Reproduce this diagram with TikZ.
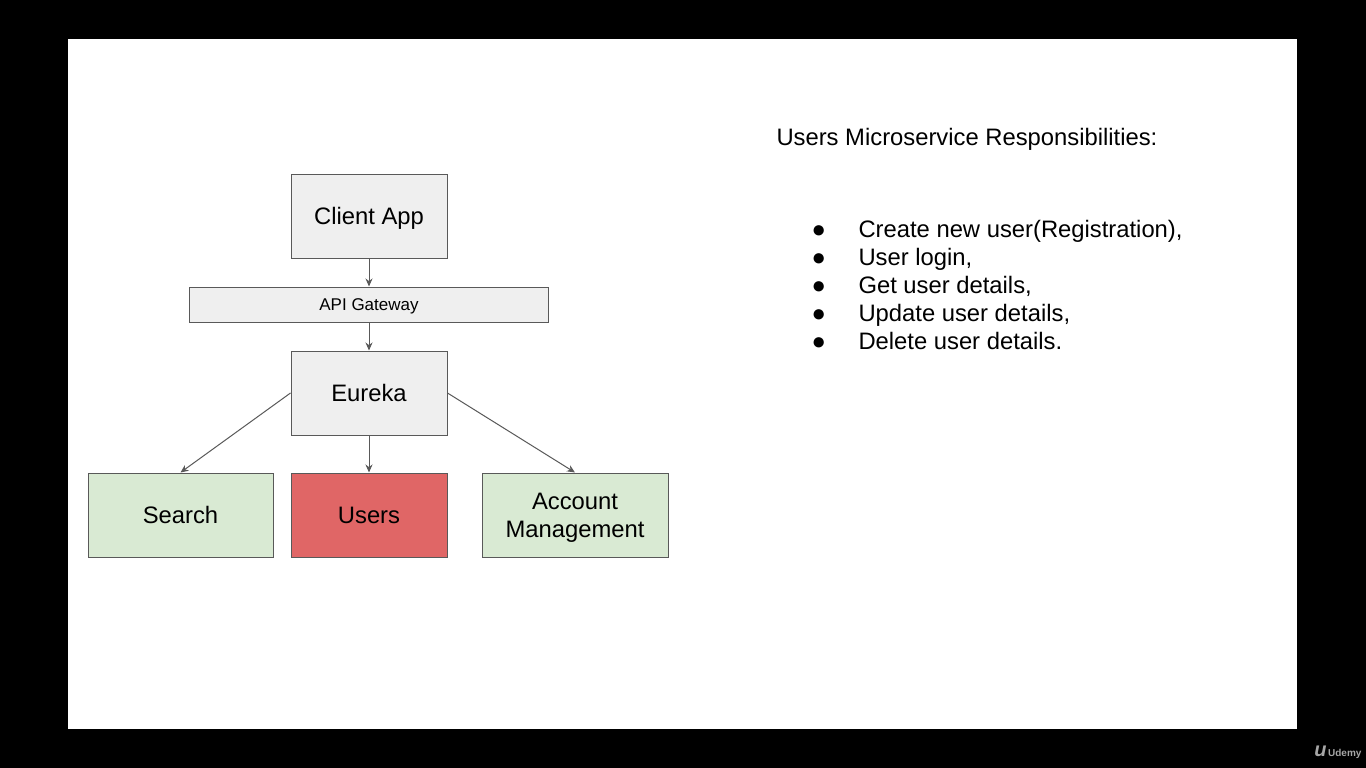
\documentclass[tikz,border=0pt]{standalone}
\usepackage{fontspec}
\setmainfont{Liberation Sans}
\usetikzlibrary{positioning,arrows.meta}
\definecolor{boxgray}{HTML}{EFEFEF}
\definecolor{linegray}{HTML}{595959}
\definecolor{svcgreen}{HTML}{D9EAD3}
\definecolor{svcred}{HTML}{E06666}
\begin{document}
\begin{tikzpicture}[
    x=1pt, y=1pt,
    ->,
    >={Stealth[length=8pt,width=7pt]},
    line width=1pt,
    draw=linegray,
    svc/.style={draw=linegray, fill=boxgray, minimum width=156pt, minimum height=84pt,
                inner sep=2pt, text depth=0pt, align=center, font=\fontsize{23.8}{28}\selectfont},
    item/.style={anchor=base west, inner sep=0pt, font=\fontsize{23.8}{28}\selectfont}
]
% slide
\fill[black] (0,0) rectangle (1366,-768);
\fill[white] (68,-39) rectangle (1297,-729);
\useasboundingbox (0,0) rectangle (1366,-768);

% diagram
\node[svc] (client) at (369,-216) {Client App};
\node[svc, minimum width=359pt, minimum height=35pt, font=\fontsize{17}{20}\selectfont,
      below=28pt of client] (gateway) {API Gateway};
\node[svc, below=28pt of gateway] (eureka) {Eureka};
\node[svc, fill=svcred, below=37pt of eureka] (users) {Users};
\node[svc, fill=svcgreen, minimum width=185pt, left=17pt of users] (search) {Search};
\node[svc, fill=svcgreen, minimum width=186pt, right=34pt of users] (account) {Account\\Management};
\path[linegray]
  (client) edge (gateway)
  (gateway) edge (eureka)
  (eureka) edge (users)
  (eureka.west) edge (search.north)
  (eureka.east) edge (account.north);

% responsibilities
\node[item] (title) at (776,-145) {Users Microservice Responsibilities:};
\node[item] (b1) at (811,-237) {●};
\node[item] (b2) at (811,-265) {●};
\node[item] (b3) at (811,-293) {●};
\node[item] (b4) at (811,-321) {●};
\node[item] (b5) at (811,-349) {●};
\node[item] (r1) at (858,-237) {Create new user(Registration),};
\node[item] (r2) at (858,-265) {User login,};
\node[item] (r3) at (858,-293) {Get user details,};
\node[item] (r4) at (858,-321) {Update user details,};
\node[item] (r5) at (858,-349) {Delete user details.};

% watermark
\node[anchor=east, text=gray!70, inner sep=0pt, font=\bfseries\fontsize{10}{11}\selectfont]
  (logo) at (1362,-752) {{\fontsize{20}{20}\selectfont\itshape u}\,Udemy};
\end{tikzpicture}
\end{document}
